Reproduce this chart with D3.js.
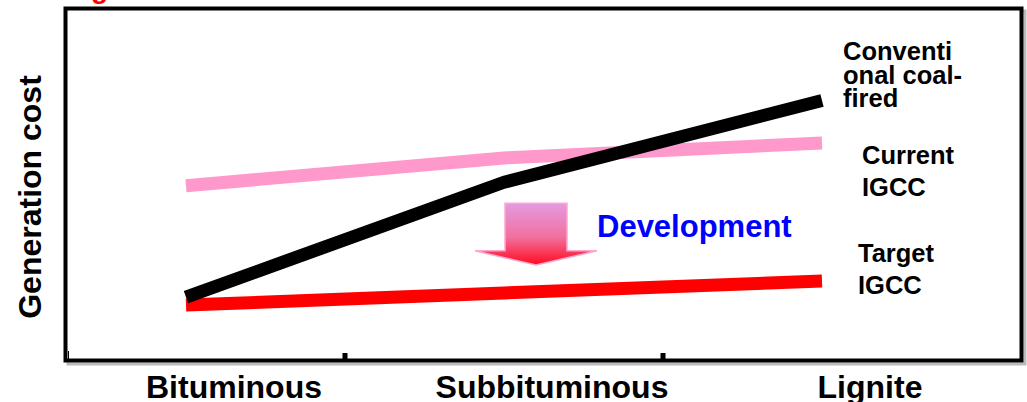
<!DOCTYPE html>
<html>
<head>
<meta charset="utf-8">
<script src="https://cdn.jsdelivr.net/npm/d3@7/dist/d3.min.js"></script>
<style>
  html, body { margin: 0; padding: 0; background: #fff; }
  svg { display: block; font-family: "Liberation Sans", Arial, sans-serif; font-weight: bold; }
</style>
</head>
<body>
<svg id="chart" width="1027" height="402"></svg>
<script>
// Coal rank on the horizontal axis
const categories = ["Bituminous", "Subbituminous", "Lignite"];

// Relative generation cost (arbitrary units, 0-100)
const conventionalCost = [17.5, 50.5, 74.0];
const currentIgccCost  = [49.5, 57.5, 61.8];
const targetIgccCost   = [15.2, 18.7, 22.1];

const seriesLabels = [
  ["Conventi", "onal coal-", "fired"],
  ["Current", "IGCC"],
  ["Target", "IGCC"]
];
const arrowLabel = "Development";
const yTitle = "Generation cost";

const svg = d3.select("#chart");

const x = d3.scaleBand().domain(categories).range([27, 981]).padding(0);
const xc = c => x(c) + x.bandwidth() / 2;
const y = d3.scaleLinear().domain([0, 100]).range([358, 10]);

// Partially visible heading above the frame
const head = svg.append("text").attr("x", -4).attr("y", -2)
  .attr("font-size", 28).attr("fill", "#000");
head.append("tspan").text("Cost ta");
head.append("tspan").attr("fill", "#ff0000").text("g");
head.append("tspan").text("et cut");

// Frame with soft grey shadow
svg.append("rect").attr("x", 68).attr("y", 11).attr("width", 957).attr("height", 353)
  .attr("fill", "none").attr("stroke", "#bbb").attr("stroke-width", 3);
svg.append("rect").attr("x", 65.5).attr("y", 8.5).attr("width", 956).attr("height", 352)
  .attr("fill", "#fff").attr("stroke", "#000").attr("stroke-width", 4);

// Category boundary ticks on the bottom axis
const xAxis = d3.axisBottom(x).tickSize(0).tickFormat("");
const gx = svg.append("g").attr("transform", "translate(0,360)").call(xAxis);
gx.select(".domain").remove();
const bounds = categories.slice(1).map(c => x(c));
gx.selectAll("rect.tk").data(bounds).join("rect").attr("class", "tk")
  .attr("x", d => d - 2.5).attr("y", -7).attr("width", 5).attr("height", 7).attr("fill", "#000");
svg.append("line").attr("x1", 68.5).attr("x2", 68.5).attr("y1", 351).attr("y2", 360)
  .attr("stroke", "#000").attr("stroke-width", 1);

// Category labels
svg.selectAll("text.cat").data(categories).join("text").attr("class", "cat")
  .attr("x", d => xc(d) + 48).attr("y", 398)
  .attr("text-anchor", "middle").attr("font-size", 32).attr("fill", "#000")
  .text(d => d);

// Y-axis title
svg.append("text")
  .attr("transform", "translate(41,197) rotate(-90)")
  .attr("text-anchor", "middle").attr("font-size", 32).attr("fill", "#000")
  .text(yTitle);

// Cost lines
const line = d3.line().x((d, i) => xc(categories[i])).y(d => y(d));
const series = [
  { values: currentIgccCost, color: "#ff99cc" },
  { values: targetIgccCost, color: "#ff0000" },
  { values: conventionalCost, color: "#000000" }
];
svg.selectAll("path.cost").data(series).join("path").attr("class", "cost")
  .attr("d", d => line(d.values))
  .attr("fill", "none").attr("stroke", d => d.color)
  .attr("stroke-width", 13).attr("stroke-linejoin", "round").attr("stroke-linecap", "butt");

// Series labels at the right end
function multiLine(lines, x0, y0, dy) {
  const t = svg.append("text").attr("font-size", 25.5).attr("fill", "#000");
  lines.forEach((s, i) => t.append("tspan").attr("x", x0).attr("y", y0 + i * dy).text(s));
}
multiLine(seriesLabels[0], 843, 60, 23.5);
multiLine(seriesLabels[1], 862, 164, 32);
multiLine(seriesLabels[2], 858, 262, 32);

// Development arrow
const defs = svg.append("defs");
const grad = defs.append("linearGradient").attr("id", "devGrad")
  .attr("x1", 0).attr("y1", 0).attr("x2", 0).attr("y2", 1);
grad.append("stop").attr("offset", "0%").attr("stop-color", "#e39be0");
grad.append("stop").attr("offset", "55%").attr("stop-color", "#f2709f");
grad.append("stop").attr("offset", "100%").attr("stop-color", "#ff0a1e");

const ax = xc("Subbituminous") + 32;
const aTop = y(44.5), aNeck = y(30.8), aTip = y(26.7);
const bodyHalf = 31, headHalf = 61;
const arrowPts = [
  [ax - bodyHalf, aTop], [ax + bodyHalf, aTop], [ax + bodyHalf, aNeck],
  [ax + headHalf, aNeck], [ax, aTip], [ax - headHalf, aNeck], [ax - bodyHalf, aNeck]
];
svg.append("path").attr("d", d3.line()(arrowPts) + "Z")
  .attr("fill", "url(#devGrad)").attr("stroke", "#ffa6cf").attr("stroke-width", 1.5)
  .attr("stroke-linejoin", "miter");

svg.append("text").attr("x", 597).attr("y", 237)
  .attr("font-size", 31).attr("fill", "#0000ff").text(arrowLabel);
</script>
</body>
</html>
